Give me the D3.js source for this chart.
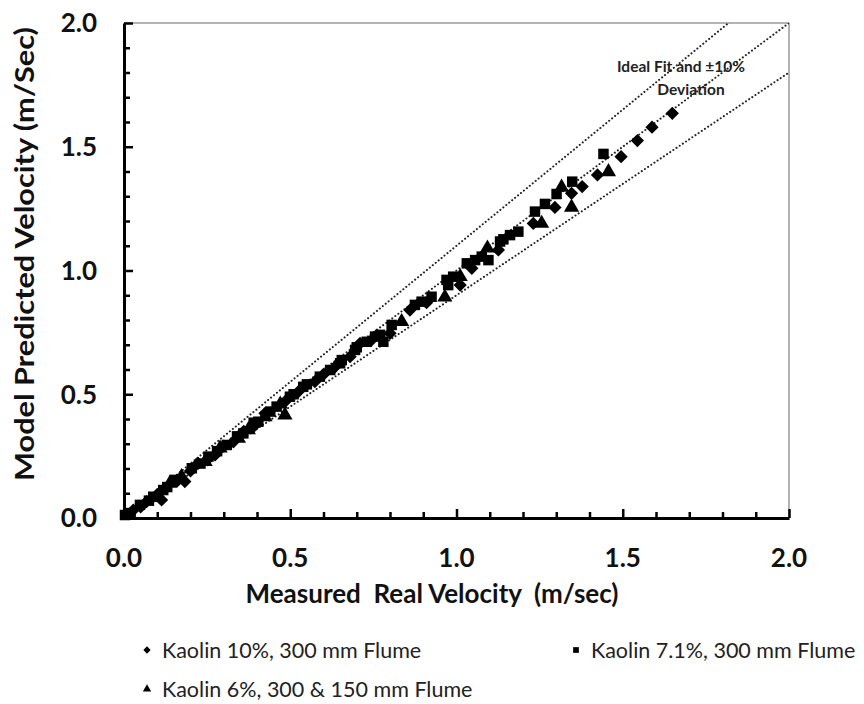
<!DOCTYPE html>
<html>
<head>
<meta charset="utf-8">
<script src="https://cdn.jsdelivr.net/npm/d3@7"></script>
<style>
  body { margin: 0; background: #fff; }
  svg { display: block; font-family: Lato, "Open Sans", sans-serif; }
</style>
</head>
<body>
<svg id="chart"></svg>
<script>
// Measured vs predicted velocity (m/s)
const kaolin10 = [
  [1.649,1.635],[1.588,1.579],[1.544,1.525],[1.495,1.460],[1.424,1.386],[1.378,1.339],
  [1.346,1.312],[1.296,1.255],[1.231,1.190],[1.126,1.083],[1.046,1.009],[1.011,0.941],
  [0.860,0.840],[0.800,0.746],[0.710,0.706],[0.680,0.652],[0.635,0.611],[0.574,0.551],
  [0.524,0.510],[0.484,0.470],[0.424,0.423],[0.389,0.369],[0.360,0.350],[0.329,0.308],
  [0.300,0.290],[0.274,0.255],[0.250,0.235],[0.223,0.221],[0.200,0.190],[0.183,0.147],
  [0.160,0.150],[0.113,0.073],[0.100,0.095],[0.068,0.066],[0.050,0.045],[0.028,0.032],
  [0.910,0.870],[0.745,0.720],[0.600,0.580]
];
const kaolin71 = [
  [1.442,1.471],[1.348,1.359],[1.301,1.309],[1.266,1.269],[1.236,1.238],[1.186,1.157],
  [1.161,1.143],[1.141,1.126],[1.131,1.117],[1.076,1.056],[1.056,1.042],[1.096,1.042],
  [1.031,1.029],[0.990,0.975],[0.970,0.962],[0.975,0.941],[0.925,0.894],[0.895,0.874],
  [0.875,0.861],[0.805,0.780],[0.780,0.712],[0.755,0.733],[0.730,0.712],[0.695,0.679],
  [0.655,0.638],[0.620,0.598],[0.589,0.571],[0.539,0.530],[0.499,0.490],[0.459,0.450],
  [0.404,0.389],[0.390,0.385],[0.359,0.342],[0.340,0.330],[0.309,0.295],[0.280,0.270],
  [0.254,0.248],[0.230,0.220],[0.204,0.201],[0.153,0.154],[0.130,0.125],[0.118,0.113],
  [0.088,0.086],[0.075,0.070],[0.048,0.053],[0.020,0.020],[0.003,0.012],
  [0.440,0.430],[0.510,0.500],[0.550,0.540],[0.650,0.625],[0.700,0.690],[0.770,0.740]
];
const kaolin6 = [
  [1.457,1.399],[1.316,1.336],[1.346,1.255],[1.256,1.190],[1.093,1.090],[1.011,0.975],
  [0.965,0.892],[0.835,0.793],[0.484,0.416],[0.424,0.409],[0.374,0.356],[0.344,0.322],
  [0.289,0.282],[0.244,0.228],[0.173,0.167],[0.138,0.140],[0.470,0.460]
];

const seriesNames = ["Kaolin 10%, 300 mm Flume", "Kaolin 7.1%, 300 mm Flume", "Kaolin 6%, 300 & 150 mm Flume"];
const fitFactors = [1.1, 1.0, 0.9];
const tickLabels = [0, 0.5, 1.0, 1.5, 2.0];

const width = 864, height = 704;
const margin = { left: 124, top: 23, right: 75, bottom: 186 };
const plotW = width - margin.left - margin.right;
const plotH = height - margin.top - margin.bottom;

const svg = d3.select("#chart")
    .attr("width", width)
    .attr("height", height);

const x = d3.scaleLinear().domain([0, 2]).range([margin.left, margin.left + plotW]);
const y = d3.scaleLinear().domain([0, 2]).range([margin.top + plotH, margin.top]);

svg.append("clipPath").attr("id", "plotClip")
  .append("rect")
    .attr("x", margin.left).attr("y", margin.top)
    .attr("width", plotW).attr("height", plotH);

// Top and right frame (thin grey)
svg.append("path")
    .attr("d", `M${x(0)},${y(2)}H${x(2)}V${y(0)}`)
    .attr("fill", "none")
    .attr("stroke", "#9a9a9a")
    .attr("stroke-width", 1.5);

// Ideal fit and +/-10% lines
const fitLine = d3.line().x(d => x(d[0])).y(d => y(d[1]));
svg.append("g").attr("clip-path", "url(#plotClip)")
  .selectAll("path")
  .data(fitFactors)
  .join("path")
    .attr("d", k => fitLine([[0, 0], [2, 2 * k]]))
    .attr("fill", "none")
    .attr("stroke", "#222")
    .attr("stroke-width", 2)
    .attr("stroke-linecap", "round")
    .attr("stroke-dasharray", "0.1 3.7");

// Axes
const minorTicks = d3.range(0, 2.0001, 0.1);
const isMajor = v => Math.abs(v * 2 - Math.round(v * 2)) < 1e-6;

const xAxis = svg.append("g")
    .attr("transform", `translate(0,${y(0)})`)
    .call(d3.axisTop(x).tickValues(minorTicks).tickFormat("").tickSizeOuter(0));
xAxis.selectAll(".tick line").attr("y2", d => isMajor(d) ? -9 : -6);

const yAxis = svg.append("g")
    .attr("transform", `translate(${x(0)},0)`)
    .call(d3.axisRight(y).tickValues(minorTicks).tickFormat("").tickSizeOuter(0));
yAxis.selectAll(".tick line").attr("x2", d => isMajor(d) ? 9 : 6);

svg.selectAll(".domain").attr("stroke", "#000").attr("stroke-width", 3);
svg.selectAll(".tick line").attr("stroke", "#000").attr("stroke-width", 2.5);

// Tick labels
svg.append("g").selectAll("text")
  .data(tickLabels)
  .join("text")
    .attr("x", d => x(d))
    .attr("y", y(0) + 49)
    .attr("text-anchor", "middle")
    .attr("font-size", 26)
    .attr("font-weight", "bold")
    .attr("fill", "#111")
    .text(d => d3.format(".1f")(d));

svg.append("g").selectAll("text")
  .data(tickLabels)
  .join("text")
    .attr("x", x(0) - 27)
    .attr("y", d => y(d))
    .attr("dy", "0.36em")
    .attr("text-anchor", "end")
    .attr("font-size", 26)
    .attr("font-weight", "bold")
    .attr("fill", "#111")
    .text(d => d3.format(".1f")(d));

// Axis titles
svg.append("text")
    .attr("x", 432)
    .attr("y", 603)
    .attr("text-anchor", "middle")
    .attr("font-size", 26)
    .attr("font-weight", "bold")
    .attr("fill", "#111")
    .attr("xml:space", "preserve")
    .text("Measured  Real Velocity  (m/sec)");

svg.append("text")
    .attr("transform", `translate(34,${254}) rotate(-90) scale(1.18,1)`)
    .attr("text-anchor", "middle")
    .attr("font-size", 26)
    .attr("font-weight", "bold")
    .attr("fill", "#111")
    .text("Model Predicted Velocity (m/Sec)");

// Annotation
const note = svg.append("text")
    .attr("text-anchor", "middle")
    .attr("font-size", 15.5)
    .attr("font-weight", "bold")
    .attr("fill", "#222");
note.append("tspan").attr("x", 681).attr("y", 72).text("Ideal Fit and \u00b110%");
note.append("tspan").attr("x", 691).attr("y", 95).text("Deviation");

// Markers
const shapes = [
  { data: kaolin10, sym: d3.symbolSquare, size: 88, rot: 45 },
  { data: kaolin71, sym: d3.symbolSquare, size: 110, rot: 0 },
  { data: kaolin6, sym: d3.symbolTriangle, size: 100, rot: 0 }
];

shapes.forEach(s => {
  svg.append("g").selectAll("path")
    .data(s.data)
    .join("path")
      .attr("d", d3.symbol().type(s.sym).size(s.size))
      .attr("transform", d => `translate(${x(d[0])},${y(d[1])}) rotate(${s.rot})`)
      .attr("fill", "#000");
});

// Legend
const legendPos = [[147, 650], [576, 650], [147, 689]];
const legend = svg.append("g").selectAll("g")
  .data(seriesNames)
  .join("g")
    .attr("transform", (d, i) => `translate(${legendPos[i][0]},${legendPos[i][1]})`);

legend.append("path")
    .attr("d", (d, i) => d3.symbol().type(shapes[i].sym).size(shapes[i].size * 0.3)())
    .attr("transform", (d, i) => `rotate(${shapes[i].rot})`)
    .attr("fill", "#000");

legend.append("text")
    .attr("x", 15)
    .attr("dy", "0.36em")
    .attr("font-size", 21.5)
    .attr("fill", "#222")
    .text(d => d);
</script>
</body>
</html>
